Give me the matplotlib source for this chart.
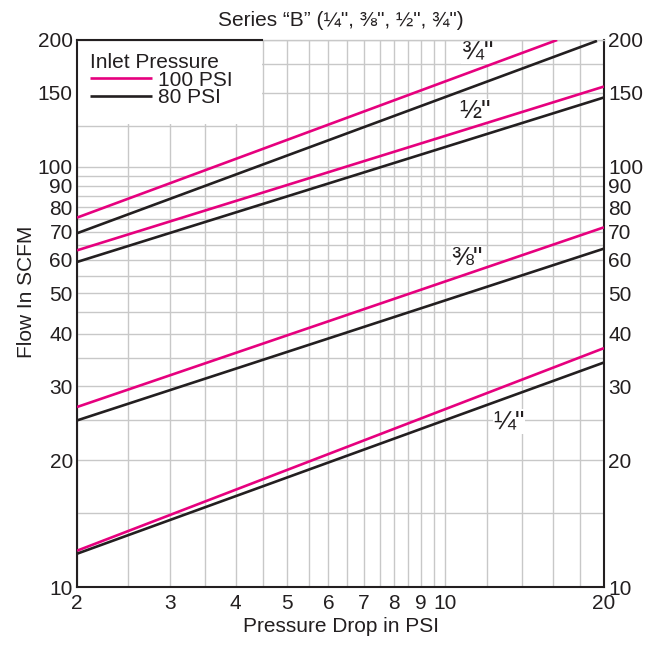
import matplotlib
matplotlib.use("Agg")
import matplotlib.pyplot as plt
from matplotlib.ticker import FixedLocator, NullFormatter
from matplotlib.patches import Rectangle

plt.rcParams['font.family'] = ['Liberation Sans', 'DejaVu Sans']

INK = '#231f20'
PINK = '#e6007e'
GRID = '#c8c8c8'
FS = 15

# values (pressure drop PSI -> flow SCFM), two points per straight line
sizes = ['¼"', '⅜"', '½"', '¾"']
x_100 = {'¼"': [2, 20], '⅜"': [2, 20], '½"': [2, 20], '¾"': [2, 16.3]}
y_100 = {'¼"': [12.2, 37.0], '⅜"': [26.8, 71.7], '½"': [63.2, 155], '¾"': [75.6, 200]}
x_80 = {'¼"': [2, 20], '⅜"': [2, 20], '½"': [2, 20], '¾"': [2, 19.4]}
y_80 = {'¼"': [12.0, 34.2], '⅜"': [24.9, 63.8], '½"': [59.3, 146], '¾"': [69.4, 199]}

# where the size labels sit
label_x = {'¼"': 13.2, '⅜"': 11.0, '½"': 11.4, '¾"': 11.5}
label_y = {'¼"': 24.8, '⅜"': 60.5, '½"': 135.5, '¾"': 188}

x_major = [2, 3, 4, 5, 6, 7, 8, 9, 10, 20]
x_minor = [2.5, 3.5, 4.5, 5.5, 6.5, 7.5, 8.5, 9.5, 12, 14, 16, 18]
y_major = [10, 20, 30, 40, 50, 60, 70, 80, 90, 100, 150, 200]
y_minor = [15, 25, 35, 45, 55, 65, 75, 85, 95, 125, 175]

fig = plt.figure(figsize=(6.55, 6.48), dpi=100)
ax = fig.add_axes([0.1176, 0.0941, 0.8045, 0.8442])

ax.set_xscale('log')
ax.set_yscale('log')
ax.set_xlim(2, 20)
ax.set_ylim(10, 200)

ax.xaxis.set_major_locator(FixedLocator(x_major))
ax.xaxis.set_minor_locator(FixedLocator(x_minor))
ax.yaxis.set_major_locator(FixedLocator(y_major))
ax.yaxis.set_minor_locator(FixedLocator(y_minor))
ax.set_xticklabels([str(v) for v in x_major])
ax.set_yticklabels([str(v) for v in y_major])
ax.xaxis.set_minor_formatter(NullFormatter())
ax.yaxis.set_minor_formatter(NullFormatter())

ax.grid(True, which='both', color=GRID, lw=1.0, zorder=0)
ax.set_axisbelow(True)
ax.tick_params(which='both', length=0, labelsize=FS, colors=INK)
ax.tick_params(axis='y', labelright=True, pad=3)
ax.tick_params(axis='x', pad=5)

for side in ['left', 'bottom', 'right']:
    ax.spines[side].set_color(INK)
    ax.spines[side].set_linewidth(1.5)
ax.spines['top'].set_color(GRID)
ax.spines['top'].set_linewidth(1.0)

# white block behind the legend
ax.add_patch(Rectangle((0, 0.846), 0.351, 0.154, transform=ax.transAxes,
                       facecolor='white', edgecolor='none', zorder=1.5))
ax.plot([0, 0.351], [1, 1], transform=ax.transAxes, color=INK, lw=1.5,
        clip_on=False, zorder=3)

for s in sizes:
    ax.plot(x_100[s], y_100[s], color=PINK, lw=1.9, solid_capstyle='butt', zorder=3,
            label='100 PSI' if s == sizes[0] else None)
    ax.plot(x_80[s], y_80[s], color=INK, lw=1.9, solid_capstyle='butt', zorder=3,
            label='80 PSI' if s == sizes[0] else None)
    # label sits under the curves so its white patch only hides grid lines
    ax.text(label_x[s], label_y[s], s, fontsize=19, color=INK, ha='center', va='center',
            zorder=2.5, bbox=dict(facecolor='white', edgecolor='none', pad=0.3))

leg = ax.legend(title='Inlet Pressure', loc='upper left', bbox_to_anchor=(0.0, 1.0),
                frameon=False, fontsize=FS, title_fontsize=FS, alignment='left',
                handlelength=2.98, handletextpad=0.29, labelspacing=-0.06,
                borderpad=0.37, borderaxespad=0.25)
leg.get_title().set_color(INK)
for t in leg.get_texts():
    t.set_color(INK)
leg.set_zorder(5)

ax.set_xlabel('Pressure Drop in PSI', fontsize=FS, color=INK, labelpad=3)
ax.set_ylabel('Flow In SCFM', fontsize=FS, color=INK)
ax.yaxis.set_label_coords(-0.078, 0.539)
ax.set_title('Series “B” (¼", ⅜", ½", ¾")', fontsize=FS, color=INK, pad=10)

fig.savefig('out.png', dpi=100)
